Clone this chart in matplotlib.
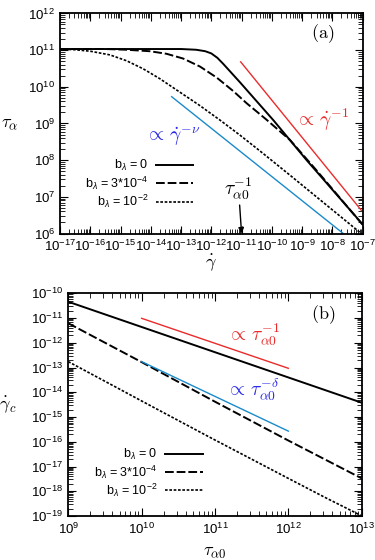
import numpy as np
import matplotlib
matplotlib.use("Agg")
import matplotlib.pyplot as plt
from matplotlib.ticker import LogLocator, LogFormatterMathtext, NullFormatter

plt.rcParams['font.family'] = ['Liberation Sans', 'DejaVu Sans']
plt.rcParams['mathtext.fontset'] = 'custom'
plt.rcParams['mathtext.rm'] = 'Liberation Sans'
plt.rcParams['mathtext.it'] = 'Liberation Sans:italic'
plt.rcParams['mathtext.bf'] = 'Liberation Sans:bold'

# - - - - data (log10 values) - - -
legend_labels = [r"b$_{\lambda}$ = 0", r"b$_{\lambda}$ = 3*10$^{-4}$", r"b$_{\lambda}$ = 10$^{-2}$"]
tau_a0 = 1e11

# panel (a): tau_alpha vs shear rate
a_solid_x = [-17, -13.0, -12.5, -12.2, -12.0, -11.8, -11.6, -11.38, -11.05, -9.95, -8.85, -7.0]
a_solid_y = [11.03, 11.03, 11.01, 10.97, 10.91, 10.79, 10.62, 10.42, 10.12, 9.09, 8.0, 6.25]
a_dash_x = [-17, -15.5, -14.8, -14.03, -13.48, -12.93, -12.37, -11.82, -11.27, -10.83, -10.2, -9.4, -8.5, -7.0]
a_dash_y = [11.03, 11.03, 11.01, 10.97, 10.9, 10.77, 10.55, 10.25, 9.88, 9.55, 9.12, 8.55, 7.7, 6.24]
a_dot_x = [-17, -16.5, -16.0, -15.35, -14.8, -14.25, -13.7, -13.14, -12.4, -11.71, -11.05, -10.3, -9.4, -8.2, -7.0]
a_dot_y = [11.03, 11.01, 10.97, 10.87, 10.71, 10.49, 10.22, 9.91, 9.5, 9.09, 8.68, 8.19, 7.59, 6.78, 5.97]
a_red_x = [-11.03, -7.03]
a_red_y = [10.68, 6.62]
a_blue_x = [-13.31, -7.64]
a_blue_y = [9.73, 6.0]

# panel (b): critical shear rate vs tau_alpha0
b_solid_x = [9, 10, 11, 12, 13]
b_solid_y = [-10.34, -11.36, -12.38, -13.4, -14.42]
b_dash_x = [9, 10, 11, 12, 13]
b_dash_y = [-11.21, -12.78, -14.38, -15.95, -17.48]
b_dot_x = [9, 10, 10.93, 12, 12.5, 12.89, 13]
b_dot_y = [-12.76, -14.35, -15.82, -17.48, -18.25, -18.83, -19.0]
b_red_x = [10.0, 12.0]
b_red_y = [-11.01, -13.03]
b_blue_x = [10.0, 12.0]
b_blue_y = [-12.76, -15.57]

red = '#ea2b2b'
blue_line = '#1a8acb'
blue_text = '#2a2ae8'
dash_style = (0, (4.5, 1.5))
dot_style = (0, (1.6, 1.0))


def p10(v):
    return 10.0 ** np.array(v)


def style_axis(ax):
    ax.set_xscale('log')
    ax.set_yscale('log')
    for axis in (ax.xaxis, ax.yaxis):
        axis.set_major_locator(LogLocator(base=10, numticks=100))
        axis.set_minor_locator(LogLocator(base=10, subs=np.arange(2, 10), numticks=100))
        axis.set_minor_formatter(NullFormatter())
        axis.set_major_formatter(LogFormatterMathtext())
    ax.tick_params(which='both', direction='in', top=True, right=True, labelsize=9.5)
    ax.tick_params(which='major', length=6, width=0.8)
    ax.tick_params(which='minor', length=3.5, width=0.6)
    ax.tick_params(axis='x', pad=4)
    for s in ax.spines.values():
        s.set_linewidth(1.3)


fig = plt.figure(figsize=(3.75, 5.6), dpi=100)
ax1 = fig.add_axes([0.16, 0.583, 0.807, 0.393])
ax2 = fig.add_axes([0.182, 0.0786, 0.7825, 0.3976])

# ---- panel (a)
ax1.plot(p10(a_solid_x), p10(a_solid_y), color='k', lw=1.4, label=legend_labels[0])
ax1.plot(p10(a_dash_x), p10(a_dash_y), color='k', lw=1.4, ls=dash_style, label=legend_labels[1])
ax1.plot(p10(a_dot_x), p10(a_dot_y), color='k', lw=1.2, ls=dot_style, label=legend_labels[2])
ax1.plot(p10(a_red_x), p10(a_red_y), color=red, lw=1.0)
ax1.plot(p10(a_blue_x), p10(a_blue_y), color=blue_line, lw=1.0)
style_axis(ax1)
ax1.set_xlim(1e-17, 1e-7)
ax1.set_ylim(1e6, 1e12)
ax1.set_xlabel(r'$\dot{\gamma}$', fontsize=13, math_fontfamily='cm', va='center')
ax1.xaxis.set_label_coords(0.5, -0.13)
ax1.set_ylabel(r'$\tau_\alpha$', fontsize=13, math_fontfamily='cm', rotation=0,
               va='center', ha='center')
ax1.yaxis.set_label_coords(-0.165, 0.5)
ax1.text(0.869, 0.91, r'$(\mathrm{a})$', transform=ax1.transAxes, fontsize=13,
         math_fontfamily='cm', ha='center', va='center')
ax1.text(0.865, 0.515, r'$\propto\,\dot{\gamma}^{-1}$', transform=ax1.transAxes, fontsize=14,
         math_fontfamily='cm', color=red, ha='center', va='center')
ax1.text(0.373, 0.438, r'$\propto\,\dot{\gamma}^{-\nu}$', transform=ax1.transAxes, fontsize=14,
         math_fontfamily='cm', color=blue_text, ha='center', va='center')
ax1.annotate(r'$\tau_{\alpha 0}^{-1}$', xy=(1.0 / tau_a0, 1e6), xycoords='data',
             xytext=(0.59, 0.142), textcoords='axes fraction', fontsize=14,
             math_fontfamily='cm', ha='center', va='bottom',
             arrowprops=dict(arrowstyle='-|>', color='k', lw=1.0, mutation_scale=8,
                             shrinkA=0, shrinkB=0))
ax1.legend(loc='center right', bbox_to_anchor=(0.44, 0.224), frameon=False,
           markerfirst=False, fontsize=9, handlelength=3.0, handletextpad=0.6,
           labelspacing=0.08, borderpad=0, borderaxespad=0)

# ---- panel (b)
ax2.plot(p10(b_solid_x), p10(b_solid_y), color='k', lw=1.4, label=legend_labels[0])
ax2.plot(p10(b_dash_x), p10(b_dash_y), color='k', lw=1.4, ls=dash_style, label=legend_labels[1])
ax2.plot(p10(b_dot_x), p10(b_dot_y), color='k', lw=1.2, ls=dot_style, label=legend_labels[2])
ax2.plot(p10(b_red_x), p10(b_red_y), color=red, lw=1.0)
ax2.plot(p10(b_blue_x), p10(b_blue_y), color=blue_line, lw=1.0)
style_axis(ax2)
ax2.set_xlim(1e9, 1e13)
ax2.set_ylim(1e-19, 1e-10)
ax2.set_xlabel(r'$\tau_{\alpha 0}$', fontsize=13, math_fontfamily='cm', va='center')
ax2.xaxis.set_label_coords(0.5, -0.166)
ax2.set_ylabel(r'$\dot{\gamma}_c$', fontsize=13, math_fontfamily='cm', rotation=0,
               va='center', ha='center')
ax2.yaxis.set_label_coords(-0.205, 0.5)
ax2.text(0.868, 0.903, r'$(\mathrm{b})$', transform=ax2.transAxes, fontsize=13,
         math_fontfamily='cm', ha='center', va='center')
ax2.text(0.63, 0.813, r'$\propto\,\tau_{\alpha 0}^{-1}$', transform=ax2.transAxes, fontsize=14,
         math_fontfamily='cm', color=red, ha='center', va='center')
ax2.text(0.63, 0.566, r'$\propto\,\tau_{\alpha 0}^{-\delta}$', transform=ax2.transAxes, fontsize=14,
         math_fontfamily='cm', color=blue_text, ha='center', va='center')
ax2.legend(loc='center right', bbox_to_anchor=(0.459, 0.193), frameon=False,
           markerfirst=False, fontsize=9, handlelength=3.0, handletextpad=0.6,
           labelspacing=0.08, borderpad=0, borderaxespad=0)

fig.savefig('out.png', dpi=100)
